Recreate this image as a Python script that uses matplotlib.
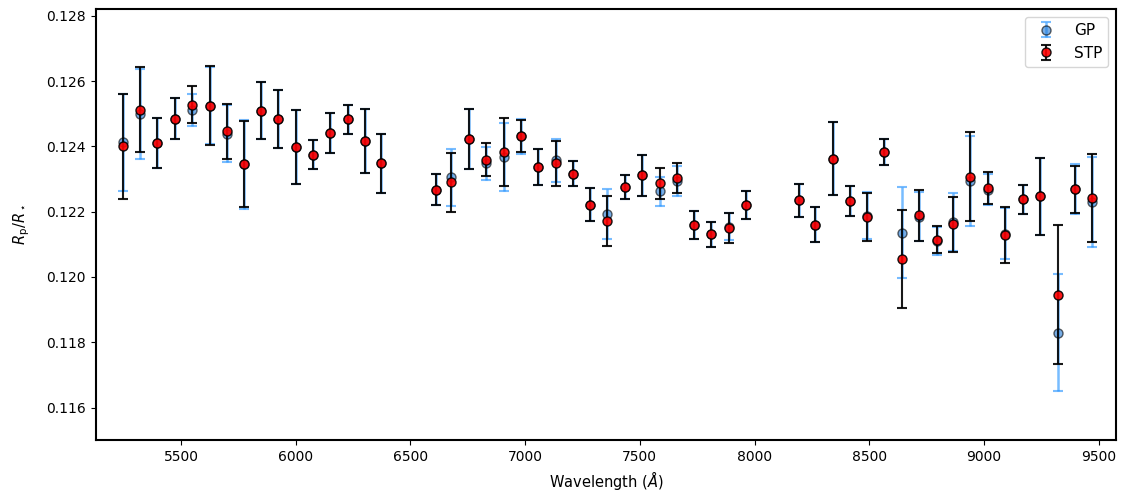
import numpy as np
import matplotlib
matplotlib.use('Agg')
import matplotlib.pyplot as plt

# wavelength bins (Angstrom)
wave = [5246, 5321, 5397, 5474, 5549, 5625, 5699, 5775, 5850, 5924, 6000, 6075, 6151, 6227, 6302, 6373,
        6612, 6678, 6754, 6831, 6907, 6982, 7058, 7135, 7210, 7284, 7358, 7435, 7511, 7587, 7662, 7736, 7810, 7887, 7963,
        8192, 8265, 8341, 8415, 8490, 8566, 8642, 8717, 8794, 8867, 8941, 9017, 9093, 9169, 9246, 9322, 9396, 9471]

# GP radius ratio and errors
rp_gp = [0.12413, 0.12500, 0.12410, 0.12485, 0.12512, 0.12525, 0.12439, 0.12345, 0.12510, 0.12484, 0.12398, 0.12375, 0.12441, 0.12483, 0.12417, 0.12348,
         0.12268, 0.12305, 0.12423, 0.12348, 0.12367, 0.12431, 0.12337, 0.12358, 0.12316, 0.12222, 0.12193, 0.12276, 0.12312, 0.12262, 0.12294, 0.12159, 0.12131, 0.12154, 0.12220,
         0.12235, 0.12160, 0.12363, 0.12232, 0.12188, 0.12383, 0.12136, 0.12185, 0.12110, 0.12169, 0.12294, 0.12268, 0.12132, 0.12238, 0.12247, 0.11829, 0.12269, 0.12229]
err_gp = [0.00148, 0.00137, 0.00077, 0.00063, 0.00050, 0.00118, 0.00087, 0.00136, 0.00088, 0.00090, 0.00114, 0.00045, 0.00062, 0.00044, 0.00098, 0.00090,
          0.00048, 0.00087, 0.00092, 0.00050, 0.00104, 0.00053, 0.00056, 0.00066, 0.00038, 0.00050, 0.00076, 0.00037, 0.00063, 0.00044, 0.00045, 0.00042, 0.00039, 0.00042, 0.00043,
          0.00051, 0.00054, 0.00113, 0.00046, 0.00073, 0.00041, 0.00139, 0.00075, 0.00044, 0.00089, 0.00137, 0.00048, 0.00078, 0.00044, 0.00119, 0.00179, 0.00076, 0.00138]

# STP radius ratio and errors
rp_stp = [0.12401, 0.12513, 0.12410, 0.12485, 0.12528, 0.12525, 0.12446, 0.12345, 0.12510, 0.12484, 0.12398, 0.12375, 0.12441, 0.12483, 0.12417, 0.12348,
          0.12268, 0.12290, 0.12423, 0.12359, 0.12382, 0.12431, 0.12337, 0.12348, 0.12316, 0.12222, 0.12172, 0.12276, 0.12312, 0.12287, 0.12302, 0.12159, 0.12131, 0.12149, 0.12220,
          0.12235, 0.12160, 0.12363, 0.12232, 0.12184, 0.12383, 0.12055, 0.12189, 0.12114, 0.12162, 0.12307, 0.12273, 0.12129, 0.12238, 0.12247, 0.11946, 0.12269, 0.12242]
err_stp = [0.00161, 0.00130, 0.00077, 0.00063, 0.00056, 0.00121, 0.00084, 0.00132, 0.00088, 0.00090, 0.00114, 0.00045, 0.00062, 0.00044, 0.00098, 0.00090,
           0.00048, 0.00091, 0.00092, 0.00051, 0.00104, 0.00049, 0.00056, 0.00068, 0.00038, 0.00050, 0.00077, 0.00037, 0.00063, 0.00048, 0.00046, 0.00042, 0.00039, 0.00046, 0.00043,
           0.00051, 0.00054, 0.00113, 0.00046, 0.00073, 0.00041, 0.00149, 0.00078, 0.00042, 0.00084, 0.00136, 0.00048, 0.00085, 0.00044, 0.00119, 0.00212, 0.00072, 0.00134]

fig, ax = plt.subplots(figsize=(11.28, 4.94), dpi=100)
fig.subplots_adjust(left=0.0848, right=0.9894, bottom=0.109, top=0.981)

ax.errorbar(wave, rp_gp, yerr=err_gp, fmt='o', color='#1f77d4', mec='k', ms=6.5,
            ecolor='dodgerblue', elinewidth=1.8, capsize=3.5, capthick=1.5, alpha=0.6, label='GP', zorder=2)
ax.errorbar(wave, rp_stp, yerr=err_stp, fmt='o', mfc='red', mec='k', ms=6.5,
            ecolor='k', elinewidth=1.5, capsize=3.5, capthick=1.5, alpha=0.9, label='STP', zorder=3)

ax.set_xlim(5128, 9576)
ax.set_ylim(0.115, 0.1282)
ax.set_yticks(np.arange(0.116, 0.1285, 0.002))
ax.set_xlabel(r'Wavelength ($\AA$)', fontsize=10.5)
ax.set_ylabel(r'$R_{\rm p}/R_\star$', fontsize=10.5, labelpad=10)
for s in ax.spines.values():
    s.set_linewidth(1.5)
ax.legend(loc='upper right', fontsize=11)

fig.savefig('out.png', dpi=100)
